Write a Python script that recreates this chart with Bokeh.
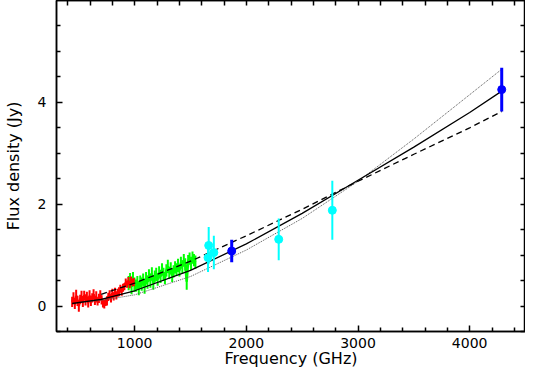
from bokeh.plotting import figure
from bokeh.models import Range1d, FixedTicker, LinearAxis, ColumnDataSource
from bokeh.embed import file_html
from bokeh.resources import INLINE

# ---------------- data ----------------
red_freq = [440, 452, 464, 476, 488, 500, 512, 524, 536, 548, 560, 572, 584, 596,
            608, 620, 632, 644, 656, 668, 680, 692, 704, 716, 728, 740, 752, 764,
            776, 788, 800, 812, 824, 836, 848, 860, 872, 884, 896, 908, 920, 932,
            944, 956, 968, 980, 992]
red_flux = [0.08, 0.16, 0.03, 0.20, 0.10, 0.00, 0.13, 0.19, 0.08, 0.21, 0.12, 0.18,
            0.06, 0.20, 0.10, 0.16, 0.23, 0.11, 0.18, 0.09, 0.15, 0.21, 0.12, 0.05,
            0.04, 0.08, 0.10, 0.18, 0.22, 0.15, 0.25, 0.19, 0.27, 0.21, 0.26, 0.28,
            0.34, 0.29, 0.36, 0.38, 0.46, 0.43, 0.49, 0.42, 0.50, 0.46, 0.47]
red_err = [0.10, 0.11, 0.09, 0.12, 0.10, 0.11, 0.09, 0.11, 0.10, 0.09, 0.11, 0.10,
           0.09, 0.11, 0.10, 0.09, 0.10, 0.09, 0.11, 0.08, 0.09, 0.10, 0.09, 0.08,
           0.09, 0.08, 0.09, 0.08, 0.09, 0.08, 0.09, 0.08, 0.09, 0.08, 0.08, 0.09,
           0.08, 0.09, 0.08, 0.07, 0.08, 0.07, 0.08, 0.07, 0.08, 0.07, 0.08]

green_freq = [946, 959, 972, 985, 998, 1011, 1024, 1037, 1050, 1063, 1076, 1089,
              1102, 1115, 1128, 1141, 1154, 1167, 1180, 1193, 1206, 1219, 1232,
              1245, 1258, 1271, 1284, 1297, 1310, 1323, 1336, 1349, 1362, 1375,
              1388, 1401, 1414, 1427, 1440, 1453, 1466, 1479, 1492, 1505, 1518,
              1531, 1544]
green_flux = [0.45, 0.52, 0.38, 0.55, 0.42, 0.40, 0.46, 0.35, 0.48, 0.43, 0.52,
              0.38, 0.55, 0.47, 0.60, 0.50, 0.64, 0.45, 0.58, 0.62, 0.52, 0.66,
              0.58, 0.72, 0.62, 0.55, 0.70, 0.78, 0.65, 0.74, 0.60, 0.68, 0.76,
              0.72, 0.80, 0.70, 0.85, 0.77, 0.90, 0.82, 0.48, 0.88, 0.93, 0.84,
              0.95, 0.90, 0.86]
green_err = [0.14, 0.13, 0.15, 0.12, 0.14, 0.12, 0.13, 0.14, 0.12, 0.13, 0.12,
             0.14, 0.12, 0.13, 0.12, 0.14, 0.12, 0.13, 0.12, 0.13, 0.12, 0.12,
             0.13, 0.12, 0.13, 0.12, 0.12, 0.13, 0.12, 0.12, 0.13, 0.12, 0.12,
             0.12, 0.13, 0.12, 0.12, 0.13, 0.12, 0.12, 0.16, 0.12, 0.12, 0.13,
             0.12, 0.12, 0.13]

cyan_freq = [1657, 1663, 1709, 2290, 2770]
cyan_flux = [0.95, 1.19, 1.05, 1.31, 1.88]
cyan_err = [0.28, 0.36, 0.33, 0.41, 0.58]

blue_freq = [1869, 4287]
blue_flux = [1.08, 4.25]
blue_err = [0.22, 0.43]

solid_freq = [440, 700, 1000, 1500, 2000, 2500, 3000, 3500, 4000, 4287]
solid_flux = [0.05, 0.13, 0.30, 0.70, 1.22, 1.82, 2.47, 3.12, 3.80, 4.22]

dashed_freq = [700, 1000, 1500, 2000, 2500, 3000, 3500, 4000, 4287]
dashed_flux = [0.23, 0.45, 0.88, 1.38, 1.90, 2.45, 2.98, 3.50, 3.82]

dotted_freq = [500, 700, 1000, 1500, 2000, 2500, 3000, 3500, 4000, 4287]
dotted_flux = [0.07, 0.11, 0.22, 0.58, 1.10, 1.72, 2.45, 3.28, 4.15, 4.65]

x_major = [1000, 2000, 3000, 4000]
x_minor = [400, 600, 800, 1200, 1400, 1600, 1800, 2200, 2400, 2600, 2800,
           3200, 3400, 3600, 3800, 4200, 4400]
y_major = [0, 2, 4]
y_minor = [-0.5, 0.5, 1, 1.5, 2.5, 3, 3.5, 4.5, 5, 5.5]

FONT = "DejaVu Sans"

# ---------------- figure ----------------
p = figure(width=525, height=370, output_backend="svg", toolbar_location=None,
           x_range=Range1d(300, 4500), y_range=Range1d(-0.5, 6.0),
           min_border_left=0, min_border_right=0, min_border_top=0,
           min_border_bottom=0)
p.grid.visible = False
p.outline_line_color = "black"
p.outline_line_width = 1.5
p.background_fill_color = "white"
p.border_fill_color = "white"


def ticks_style(ax, major_len=6, minor_len=4):
    ax.axis_line_color = "black"
    ax.axis_line_width = 1.5
    ax.major_tick_line_color = "black"
    ax.major_tick_line_width = 1.5
    ax.minor_tick_line_color = "black"
    ax.minor_tick_line_width = 1.5
    ax.major_tick_in = major_len
    ax.major_tick_out = 0
    ax.minor_tick_in = minor_len
    ax.minor_tick_out = 0


p.xaxis.ticker = FixedTicker(ticks=x_major, minor_ticks=x_minor)
p.yaxis.ticker = FixedTicker(ticks=y_major, minor_ticks=y_minor)
for ax in (p.xaxis[0], p.yaxis[0]):
    ticks_style(ax)
    ax.major_label_text_font = FONT
    ax.major_label_text_font_size = "14px"
    ax.major_label_text_color = "black"
    ax.axis_label_text_font = FONT
    ax.axis_label_text_font_size = "16px"
    ax.axis_label_text_font_style = "normal"
    ax.axis_label_text_color = "black"
p.xaxis.axis_label = "Frequency (GHz)"
p.yaxis.axis_label = "Flux density (Jy)"
p.xaxis.major_label_standoff = 6
p.xaxis.axis_label_standoff = -2
p.yaxis.major_label_standoff = 10
p.yaxis.axis_label_standoff = 12
p.yaxis.major_label_orientation = "horizontal"

# mirrored ticks on top and right (no labels): majors drawn as "minor" ticks
for side, maj, mnr in (("above", x_major, x_minor), ("right", y_major, y_minor)):
    ax = LinearAxis(ticker=FixedTicker(ticks=[], minor_ticks=maj + mnr))
    ticks_style(ax, minor_len=5)
    ax.major_label_standoff = 0
    p.add_layout(ax, side)

# ---------------- spectra ----------------
def spectrum(freq, flux, err, color):
    lo = [f - e for f, e in zip(flux, err)]
    hi = [f + e for f, e in zip(flux, err)]
    src = ColumnDataSource(dict(x=freq, y=flux, lo=lo, hi=hi))
    p.segment(x0="x", y0="lo", x1="x", y1="hi", source=src,
              line_color=color, line_width=2)
    p.line(x="x", y="y", source=src, line_color=color, line_width=2.5)


spectrum(green_freq, green_flux, green_err, "#00ff00")
spectrum(red_freq, red_flux, red_err, "#ff0000")

# ---------------- model curves ----------------
p.line(dotted_freq, dotted_flux, line_color="#555555", line_width=1,
       line_dash="1 1")
p.line(dashed_freq, dashed_flux, line_color="black", line_width=1.3,
       line_dash="6 4")
p.line(solid_freq, solid_flux, line_color="black", line_width=1.3)

# ---------------- photometry ----------------
def points(freq, flux, err, color, lw):
    lo = [f - e for f, e in zip(flux, err)]
    hi = [f + e for f, e in zip(flux, err)]
    src = ColumnDataSource(dict(x=freq, y=flux, lo=lo, hi=hi))
    p.segment(x0="x", y0="lo", x1="x", y1="hi", source=src,
              line_color=color, line_width=lw)
    p.scatter(x="x", y="y", source=src, size=8, fill_color=color,
              line_color=color)


points(cyan_freq, cyan_flux, cyan_err, "#00ffff", 2)
points(blue_freq, blue_flux, blue_err, "#0000ff", 3)

open("out.html", "w").write(file_html(p, INLINE))
